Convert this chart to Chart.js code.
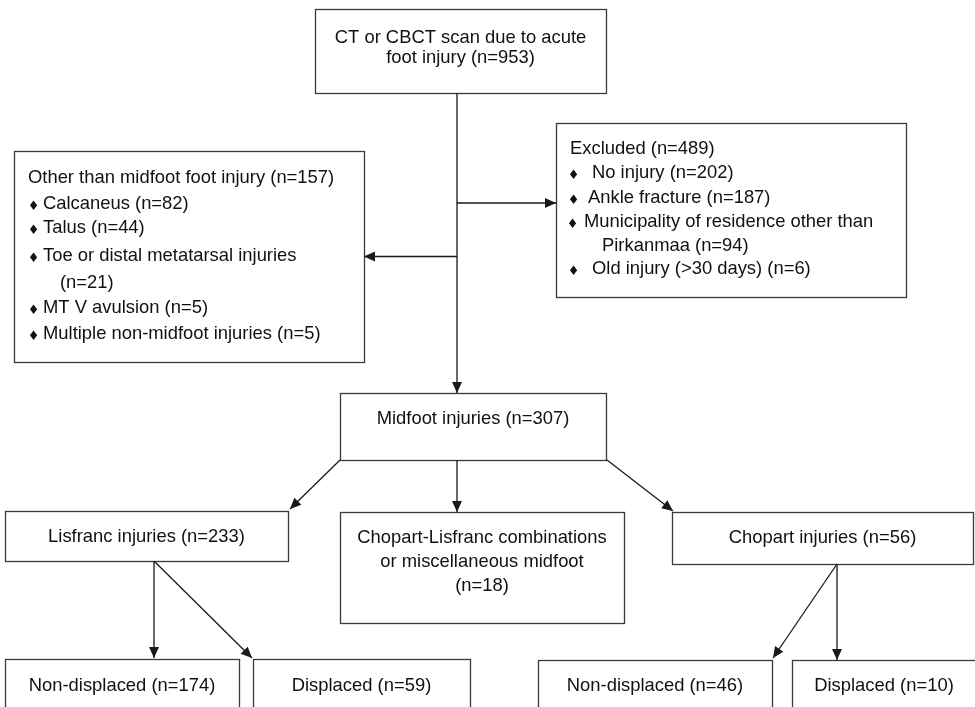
<!DOCTYPE html>
<html><head><meta charset="utf-8">
<script src="https://cdn.jsdelivr.net/npm/chart.js@4.4.1/dist/chart.umd.min.js"></script>
<style>html,body{margin:0;padding:0;background:#fff}#wrap{width:975px;height:707px}</style>
</head><body><div id="wrap"><canvas id="c" width="975" height="707"></canvas></div>
<script>
// ---------- DATA ----------
const nodeLabels = [
  "CT or CBCT scan due to acute foot injury",
  "Excluded",
  "Other than midfoot foot injury",
  "Midfoot injuries",
  "Lisfranc injuries",
  "Chopart-Lisfranc combinations or miscellaneous midfoot",
  "Chopart injuries",
  "Non-displaced",
  "Displaced",
  "Non-displaced",
  "Displaced"
];
const nodeCounts = [953, 489, 157, 307, 233, 18, 56, 174, 59, 46, 10];
const excludedReasons = ["No injury", "Ankle fracture", "Municipality of residence other than Pirkanmaa", "Old injury (>30 days)"];
const excludedCounts = [202, 187, 94, 6];
const otherInjuries = ["Calcaneus", "Talus", "Toe or distal metatarsal injuries", "MT V avulsion", "Multiple non-midfoot injuries"];
const otherCounts = [82, 44, 21, 5, 5];
const flowEdges = [[0,3],[0,1],[0,2],[3,4],[3,5],[3,6],[4,7],[4,8],[6,9],[6,10]];

// ---------- LAYOUT (chart units: x 0..975, y 0..707 downward) ----------
const BOX = [
  [315, 9, 606, 93],
  [556, 123, 906, 297],
  [14, 151, 364, 362],
  [340, 393, 606, 460],
  [5, 511, 288, 561],
  [340, 512, 624, 623],
  [672, 512, 973, 564],
  [5, 659, 239, 730],
  [253, 659, 470, 730],
  [538, 660, 772, 730],
  [792, 660, 976, 730]
];
// centered title text: words per line and baselines
const TITLE_LAYOUT = {
  0: {words:[7,3], base:[43,63]},
  3: {words:[3], base:[424]},
  4: {words:[3], base:[542]},
  5: {words:[2,3,1], base:[543,567,591]},
  6: {words:[3], base:[543]},
  7: {words:[2], base:[691]},
  8: {words:[2], base:[691]},
  9: {words:[2], base:[691]},
  10:{words:[2], base:[691]}
};
// list boxes
const LIST_LAYOUT = {
  1: {titleX:570, titleBase:154, bulletX:[573.5,573.5,572.5,573.5], textX:[592,588,584,592], contX:602,
      base:[178,203,227,274], contBase:[null,null,251,null], wrapWords:[99,99,5,99]},
  2: {titleX:28, titleBase:183, bulletX:[33.5,33.5,33.5,33.5,33.5], textX:[43,43,43,43,43], contX:60,
      base:[209,233,261,313,339], contBase:[null,null,288,null,null], wrapWords:[99,99,5,99,99]}
};
const SPINE_X = 457, LIS_X = 154, CHO_X = 837;
const FONT = '18.4px "Liberation Sans", Arial, Helvetica, sans-serif';
const BULLET_FONT = '13px "DejaVu Sans", sans-serif';
const TEXT_COLOR = '#111';
const BOX_COLOR = '#3a3a3a';
const EDGE_COLOR = '#1a1a1a';

function edgePoints(a, b) {
  const A = BOX[a], B = BOX[b];
  const key = a + '-' + b;
  switch (key) {
    case '0-3': return [{x:SPINE_X, y:A[3]}, {x:SPINE_X, y:B[1]}];
    case '0-1': return [{x:SPINE_X, y:(B[1]+B[3])/2 - 7}, {x:B[0], y:(B[1]+B[3])/2 - 7}];
    case '0-2': return [{x:SPINE_X, y:(B[1]+B[3])/2}, {x:B[2], y:(B[1]+B[3])/2}];
    case '3-4': return [{x:A[0], y:A[3]}, {x:B[2]+2, y:B[1]-2}];
    case '3-5': return [{x:SPINE_X, y:A[3]}, {x:SPINE_X, y:B[1]}];
    case '3-6': return [{x:A[2]+1, y:A[3]}, {x:B[0]+1, y:B[1]-1}];
    case '4-7': return [{x:LIS_X, y:A[3]}, {x:LIS_X, y:B[1]-1}];
    case '4-8': return [{x:LIS_X, y:A[3]}, {x:B[0]-1, y:B[1]-1}];
    case '6-9': return [{x:CHO_X, y:A[3]}, {x:B[2]+1, y:B[1]-2}];
    case '6-10': return [{x:CHO_X, y:A[3]}, {x:CHO_X, y:B[1]}];
  }
}

const datasets = flowEdges.map(([a,b]) => ({
  label: nodeLabels[a] + ' → ' + nodeLabels[b],
  data: edgePoints(a,b),
  showLine: true,
  borderColor: EDGE_COLOR,
  borderWidth: 1.3,
  pointRadius: 0,
  fill: false
}));

const flowPlugin = {
  id: 'flow',
  beforeDatasetsDraw(chart) {
    const ctx = chart.ctx, xs = chart.scales.x, ys = chart.scales.y;
    const px = v => xs.getPixelForValue(v), py = v => ys.getPixelForValue(v);
    ctx.save();
    // boxes
    ctx.strokeStyle = BOX_COLOR; ctx.lineWidth = 1.3;
    BOX.forEach(b => {
      ctx.strokeRect(Math.round(px(b[0]))+0.5, Math.round(py(b[1]))+0.5, Math.round(px(b[2])-px(b[0])), Math.round(py(b[3])-py(b[1])));
    });
    ctx.fillStyle = TEXT_COLOR; ctx.font = FONT; ctx.textBaseline = 'alphabetic';
    // centered titles
    Object.keys(TITLE_LAYOUT).forEach(k => {
      const i = +k, L = TITLE_LAYOUT[k], b = BOX[i];
      const words = nodeLabels[i].split(' ').concat(['(n=' + nodeCounts[i] + ')']);
      let w = 0;
      ctx.textAlign = 'center';
      L.words.forEach((n, li) => {
        const line = words.slice(w, w + n).join(' '); w += n;
        ctx.fillText(line, px((b[0]+b[2])/2), py(L.base[li]));
      });
    });
    // list boxes
    const lists = {1: [excludedReasons, excludedCounts], 2: [otherInjuries, otherCounts]};
    Object.keys(LIST_LAYOUT).forEach(k => {
      const i = +k, L = LIST_LAYOUT[k];
      const [items, counts] = lists[k];
      ctx.textAlign = 'left'; ctx.font = FONT;
      ctx.fillText(nodeLabels[i] + ' (n=' + nodeCounts[i] + ')', px(L.titleX), py(L.titleBase));
      items.forEach((it, j) => {
        const words = it.split(' ').concat(['(n=' + counts[j] + ')']);
        const n = L.wrapWords[j];
        ctx.font = BULLET_FONT; ctx.textAlign = 'center';
        ctx.fillText('\u2666', px(L.bulletX[j]), py(L.base[j]) + 1);
        ctx.font = FONT; ctx.textAlign = 'left';
        ctx.fillText(words.slice(0, n).join(' '), px(L.textX[j]), py(L.base[j]));
        if (words.length > n) ctx.fillText(words.slice(n).join(' '), px(L.contX), py(L.contBase[j]));
      });
    });
    ctx.restore();
  },
  afterDatasetsDraw(chart) {
    const ctx = chart.ctx;
    ctx.save();
    ctx.fillStyle = EDGE_COLOR;
    chart.data.datasets.forEach((d, i) => {
      const pts = chart.getDatasetMeta(i).data;
      const p0 = pts[0], p1 = pts[1];
      const ang = Math.atan2(p1.y - p0.y, p1.x - p0.x);
      const len = 11, hw = 5;
      ctx.beginPath();
      ctx.moveTo(p1.x, p1.y);
      ctx.lineTo(p1.x - len*Math.cos(ang) + hw*Math.sin(ang), p1.y - len*Math.sin(ang) - hw*Math.cos(ang));
      ctx.lineTo(p1.x - len*Math.cos(ang) - hw*Math.sin(ang), p1.y - len*Math.sin(ang) + hw*Math.cos(ang));
      ctx.closePath();
      ctx.fill();
    });
    ctx.restore();
  }
};

new Chart(document.getElementById('c'), {
  type: 'scatter',
  data: { datasets },
  options: {
    responsive: false,
    animation: false,
    events: [],
    layout: { padding: 0 },
    plugins: { legend: { display: false }, tooltip: { enabled: false }, title: { display: false } },
    scales: {
      x: { type: 'linear', min: 0, max: 975, display: false },
      y: { type: 'linear', min: 0, max: 707, reverse: true, display: false }
    }
  },
  plugins: [flowPlugin]
});
</script>
</body></html>
